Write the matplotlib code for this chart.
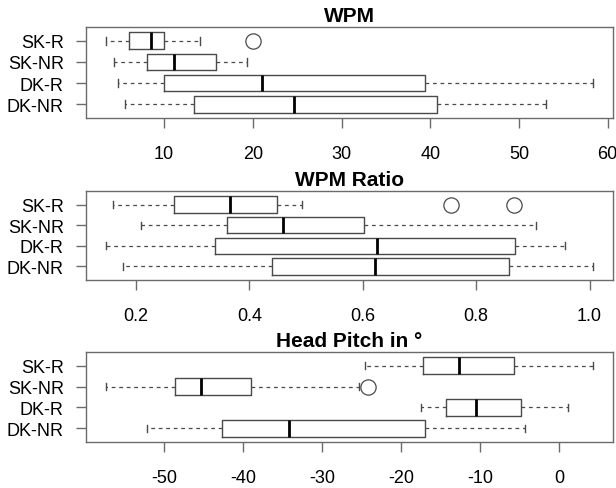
import matplotlib
matplotlib.use("Agg")
import matplotlib.pyplot as plt

matplotlib.rcParams['font.family'] = ['Liberation Sans', 'DejaVu Sans']
matplotlib.rcParams['axes.unicode_minus'] = False

groups = ["DK-NR", "DK-R", "SK-NR", "SK-R"]

# WPM
wpm_low = [5.6, 4.8, 4.4, 3.4]
wpm_q1 = [13.4, 10.0, 8.1, 6.0]
wpm_med = [24.7, 21.0, 11.1, 8.5]
wpm_q3 = [40.8, 39.4, 15.9, 10.0]
wpm_high = [53.0, 58.4, 19.3, 14.1]
wpm_out = [[], [], [], [20.0]]

# WPM Ratio
ratio_low = [0.177, 0.146, 0.208, 0.160]
ratio_q1 = [0.440, 0.339, 0.360, 0.266]
ratio_med = [0.621, 0.625, 0.460, 0.365]
ratio_q3 = [0.858, 0.868, 0.602, 0.448]
ratio_high = [1.007, 0.956, 0.906, 0.492]
ratio_out = [[], [], [], [0.755, 0.866]]

# Head pitch
pitch_low = [-52.2, -17.5, -57.4, -24.6]
pitch_q1 = [-42.7, -14.4, -48.6, -17.3]
pitch_med = [-34.2, -10.5, -45.3, -12.7]
pitch_q3 = [-17.0, -4.9, -39.0, -5.7]
pitch_high = [-4.3, 1.1, -25.4, 4.3]
pitch_out = [[], [], [-24.2], []]

panels = [
    ("WPM", wpm_low, wpm_q1, wpm_med, wpm_q3, wpm_high, wpm_out,
     [10, 20, 30, 40, 50, 60], ["10", "20", "30", "40", "50", "60"]),
    ("WPM Ratio", ratio_low, ratio_q1, ratio_med, ratio_q3, ratio_high, ratio_out,
     [0.2, 0.4, 0.6, 0.8, 1.0], ["0.2", "0.4", "0.6", "0.8", "1.0"]),
    ("Head Pitch in °", pitch_low, pitch_q1, pitch_med, pitch_q3, pitch_high, pitch_out,
     [-50, -40, -30, -20, -10, 0], ["-50", "-40", "-30", "-20", "-10", "0"]),
]

W, H = 616, 489
fig = plt.figure(figsize=(W / 100, H / 100), dpi=100)
boxes_px = [(28, 119), (192, 281), (353, 443)]
left_px, right_px = 86, 613

frame_col = "#6b6b6b"
line_col = "#4a4a4a"

for (title, lo, q1, med, q3, hi, out, ticks, tlabels), (top, bot) in zip(panels, boxes_px):
    ax = fig.add_axes([left_px / W, 1 - bot / H, (right_px - left_px) / W, (bot - top) / H])
    stats = []
    for i in range(len(groups)):
        stats.append(dict(whislo=lo[i], q1=q1[i], med=med[i], q3=q3[i],
                          whishi=hi[i], fliers=out[i], label=groups[i]))
    ax.bxp(stats, positions=[1, 2, 3, 4], widths=0.8, orientation='horizontal',
           capwidths=0.35,
           boxprops=dict(color=line_col, linewidth=1),
           medianprops=dict(color="black", linewidth=2),
           whiskerprops=dict(color=line_col, linewidth=0.9, linestyle=(0, (3, 3))),
           capprops=dict(color=line_col, linewidth=1),
           flierprops=dict(marker="o", markerfacecolor="none", markeredgecolor=line_col,
                           markersize=11, markeredgewidth=0.9))

    vals = lo + hi + [v for o in out for v in o]
    vmin, vmax = min(vals), max(vals)
    ext = 0.04 * (vmax - vmin)
    ax.set_xlim(vmin - ext, vmax + ext)
    ax.set_ylim(0.34, 4.66)

    ax.set_xticks(ticks)
    ax.set_xticklabels(tlabels)
    ax.set_yticks([1, 2, 3, 4])
    ax.set_yticklabels(groups)
    ax.tick_params(axis="x", length=7, width=1, color=frame_col, pad=12.5, labelsize=13)
    ax.tick_params(axis="y", length=7, width=1, color=frame_col, pad=9, labelsize=13)
    for s in ax.spines.values():
        s.set_color(frame_col)
        s.set_linewidth(1)
    ax.set_title(title, fontsize=15, fontweight="bold", pad=4)

fig.savefig("out.png", dpi=100)
